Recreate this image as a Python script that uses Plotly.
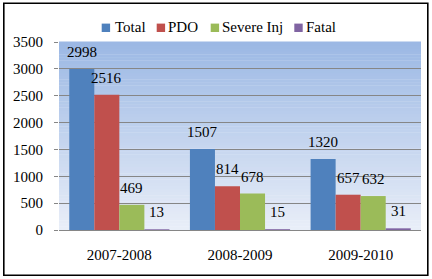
import plotly.graph_objects as go

# ---- data ----
categories = ["2007-2008", "2008-2009", "2009-2010"]
series_names = ["Total", "PDO", "Severe Inj", "Fatal"]
total = [2998, 1507, 1320]
pdo = [2516, 814, 657]
severe_inj = [469, 678, 632]
fatal = [13, 15, 31]
y_tick_values = [0, 500, 1000, 1500, 2000, 2500, 3000, 3500]

series_values = [total, pdo, severe_inj, fatal]
colors = ["#4F81BD", "#C0504D", "#9BBB59", "#8064A2"]

W, H = 432, 279
L, R, T, B = 59, 11, 42, 49
PW, PH = W - L - R, H - T - B
FONT = "Liberation Serif, Times New Roman, serif"


def px(x):
    return (x - L) / PW


def py(y):
    return (H - B - y) / PH


bargap = 0.17
barw = (1 - bargap) / len(series_names)

fig = go.Figure()
for name, vals, col in zip(series_names, series_values, colors):
    fig.add_bar(x=categories, y=vals, name=name, marker_color=col,
                marker_line_width=0, showlegend=False, hoverinfo="skip")

annotations = []
for k, vals in enumerate(series_values):
    for i, v in enumerate(vals):
        annotations.append(dict(
            x=i + (k - (len(series_names) - 1) / 2) * barw, y=v,
            xref="x", yref="y", text=str(v), showarrow=False,
            yanchor="middle", yshift=17,
            font=dict(family=FONT, size=15, color="black")))

# legend (manual, compact like the original)
legend_sq_x = [101.7, 156.7, 210.7, 294.3]
legend_txt_x = [112.8, 166.3, 220.3, 303.7]
shapes = []
for name, col, sx, tx in zip(series_names, colors, legend_sq_x, legend_txt_x):
    shapes.append(dict(type="rect", xref="paper", yref="paper",
                       x0=px(sx), x1=px(sx + 8.4), y0=py(32), y1=py(23.6),
                       fillcolor=col, line=dict(width=0), layer="above"))
    annotations.append(dict(x=px(tx), y=py(27.5), xref="paper", yref="paper",
                            xanchor="left", yanchor="middle", showarrow=False,
                            text=name, font=dict(family=FONT, size=15, color="black")))

# gradient plot background
top_c = (155, 184, 228)
bot_c = (233, 238, 248)
n = 60
for j in range(n):
    t = (j + 0.5) / n
    c = tuple(round(bot_c[m] + (top_c[m] - bot_c[m]) * t) for m in range(3))
    shapes.append(dict(type="rect", xref="paper", yref="paper",
                       x0=0, x1=1, y0=j / n, y1=(j + 1) / n + 0.002,
                       fillcolor="rgb(%d,%d,%d)" % c, line=dict(width=0),
                       layer="below"))

# chart border
shapes.append(dict(type="rect", xref="paper", yref="paper",
                   x0=px(3.8), x1=px(427.8), y0=py(275.2), y1=py(3.2),
                   line=dict(color="black", width=1.6), fillcolor="rgba(0,0,0,0)",
                   layer="above"))

fig.update_layout(
    width=W, height=H,
    margin=dict(l=L, r=R, t=T, b=B, autoexpand=False),
    paper_bgcolor="white", plot_bgcolor="rgba(0,0,0,0)",
    barmode="group", bargap=bargap, bargroupgap=0,
    shapes=shapes, annotations=annotations,
    font=dict(family=FONT, size=15, color="black"),
    xaxis=dict(type="category", showgrid=False, showline=True, linecolor="#868686",
               linewidth=1, ticks="outside", ticklen=11, tickcolor="rgba(0,0,0,0)",
               tickfont=dict(family=FONT, size=15, color="black"), zeroline=False),
    yaxis=dict(range=[0, 3500], tickvals=y_tick_values, showgrid=True,
               gridcolor="#868686", gridwidth=1, zeroline=False, showline=False,
               ticks="outside", ticklen=4, tickcolor="#868686",
               ticklabelstandoff=8,
               tickfont=dict(family=FONT, size=15, color="black")),
)

fig.write_html("out.html",
               config={"displayModeBar": False, "staticPlot": True},
               post_script="document.body.style.margin='0';")
